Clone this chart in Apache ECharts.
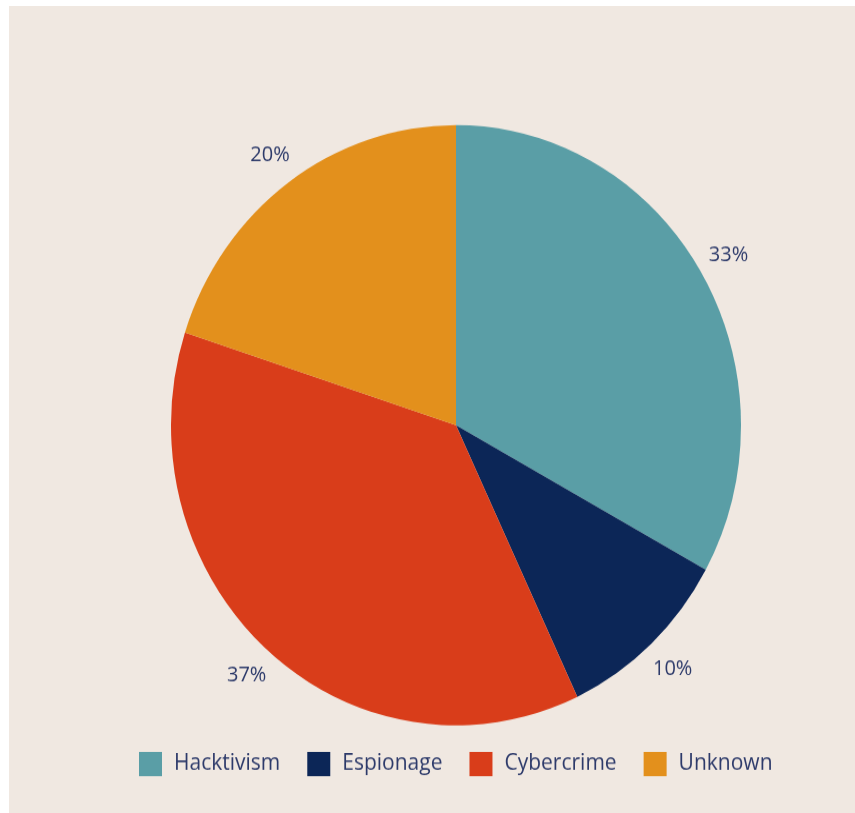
<!DOCTYPE html>
<html>
<head>
<meta charset="utf-8">
<script src="https://cdn.jsdelivr.net/npm/echarts@6/dist/echarts.min.js"></script>
<style>
html,body{margin:0;padding:0;background:#ffffff;}
#wrap{position:relative;width:855px;height:813px;overflow:hidden;background:#ffffff;}
#panel{position:absolute;left:9px;top:6px;right:0;bottom:0;background:#f0e8e1;}
#chart{position:absolute;left:0;top:0;width:855px;height:772px;transform:scaleY(1.0531);transform-origin:0 0;}
</style>
</head>
<body>
<div id="wrap"><div id="panel"></div><div id="chart"></div></div>
<script>
const categories = ['Hacktivism', 'Espionage', 'Cybercrime', 'Unknown'];
const values = [33, 10, 37, 20];
const colors = ['#5a9ea6', '#0c2657', '#d93d1a', '#e3901c'];

const chart = echarts.init(document.getElementById('chart'));
const textColor = '#2d3a6a';
chart.setOption({
  backgroundColor: 'transparent',
  animation: false,
  legend: {
    top: 709,
    left: 134,
    itemWidth: 23,
    itemHeight: 23,
    itemGap: 27,
    icon: 'rect',
    textStyle: { color: textColor, fontSize: 21, lineHeight: 23, fontFamily: 'Open Sans', padding: [0, 0, 0, 7] },
    data: categories
  },
  series: [{
    type: 'pie',
    center: [456, 403.75],
    radius: [0, 285],
    startAngle: 90,
    clockwise: true,
    avoidLabelOverlap: false,
    data: categories.map((c, i) => ({ name: c, value: values[i], itemStyle: { color: colors[i] } })),
    label: {
      show: true,
      position: 'outside',
      formatter: '{d}%',
      color: textColor,
      fontSize: 20,
      fontFamily: 'Open Sans',
      distanceToLabelLine: -20
    },
    labelLine: { show: false, length: 32, length2: 0 },
    itemStyle: { borderWidth: 0 },
    emphasis: { disabled: true }
  }]
});
</script>
</body>
</html>
